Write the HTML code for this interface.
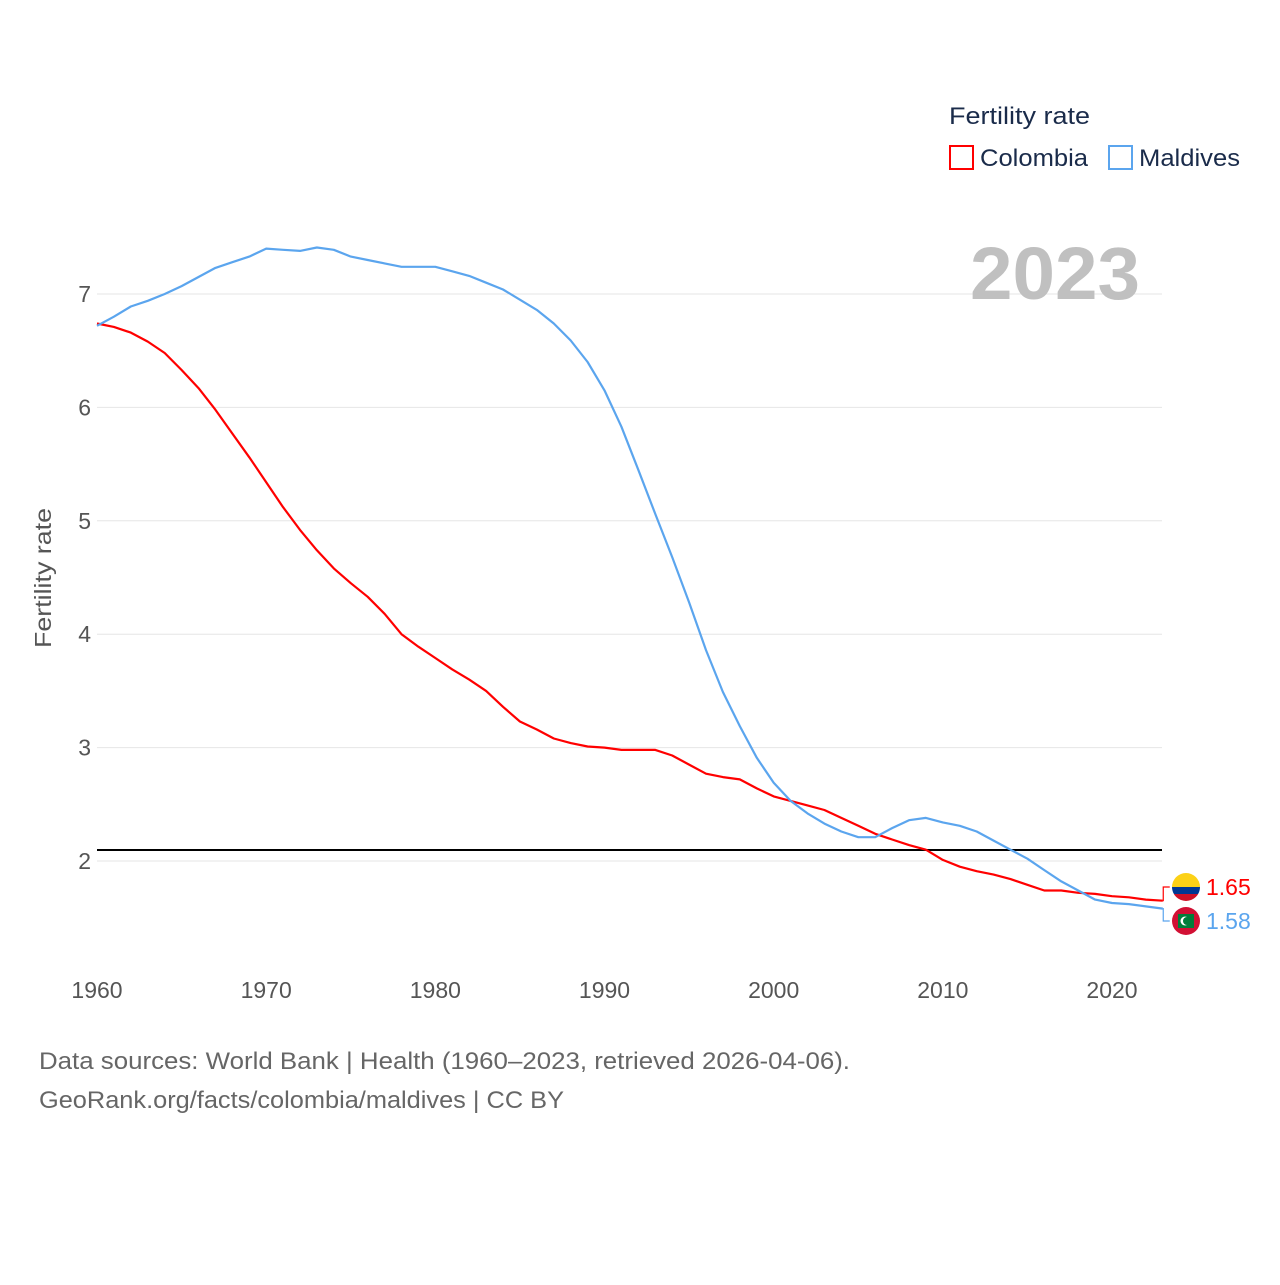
<!DOCTYPE html>
<html><head><meta charset="utf-8"><style>
body{margin:0;background:#fff;font-family:"Liberation Sans",sans-serif}
</style></head><body>
<svg width="1280" height="1280" viewBox="0 0 1280 1280">
<g id="grid"></g>
<g id="yt" font-size="23" fill="#555"></g>
<g id="xt" font-size="23" fill="#555"></g>
<text transform="translate(51,578) rotate(-90)" text-anchor="middle" font-size="23" fill="#555" textLength="140" lengthAdjust="spacingAndGlyphs">Fertility rate</text>
<text x="1140" y="299" text-anchor="end" font-size="74" font-weight="bold" fill="#c0c0c0" textLength="170" lengthAdjust="spacingAndGlyphs">2023</text>
<line x1="97" x2="1162" y1="850" y2="850" stroke="#000" stroke-width="2"/>
<g id="series"></g>
<g>
<text x="949" y="124" font-size="24" fill="#1a2b4a" textLength="141" lengthAdjust="spacingAndGlyphs">Fertility rate</text>
<rect x="950" y="146" width="23" height="23" fill="none" stroke="#f00" stroke-width="2"/>
<text x="980" y="166" font-size="24" fill="#1a2b4a" textLength="108" lengthAdjust="spacingAndGlyphs">Colombia</text>
<rect x="1109" y="146" width="23" height="23" fill="none" stroke="#5ba5ee" stroke-width="2"/>
<text x="1139" y="166" font-size="24" fill="#1a2b4a" textLength="101" lengthAdjust="spacingAndGlyphs">Maldives</text>
</g>
<g>
<clipPath id="c1"><circle cx="1186" cy="887" r="14"/></clipPath>
<g clip-path="url(#c1)"><rect x="1170" y="871" width="32" height="16" fill="#fcd116"/><rect x="1170" y="887" width="32" height="7" fill="#003893"/><rect x="1170" y="894" width="32" height="9" fill="#ce1126"/></g></g>
<g>
<circle cx="1186" cy="921" r="14" fill="#d21034"/><rect x="1178" y="914" width="16" height="14" fill="#007e3a"/>
<circle cx="1185" cy="921" r="4.5" fill="#fff"/><circle cx="1187" cy="921" r="4" fill="#007e3a"/></g>
<text x="39" y="1069" font-size="24" fill="#666" textLength="811" lengthAdjust="spacingAndGlyphs">Data sources: World Bank | Health (1960–2023, retrieved 2026-04-06).</text>
<text x="39" y="1108" font-size="24" fill="#666" textLength="525" lengthAdjust="spacingAndGlyphs">GeoRank.org/facts/colombia/maldives | CC BY</text>
</svg>
<script>
const years=[];for(let y=1960;y<=2023;y++)years.push(y);
const colombia=[6.74,6.71,6.66,6.58,6.48,6.33,6.17,5.98,5.77,5.56,5.34,5.12,4.92,4.74,4.58,4.45,4.33,4.18,4.00,3.89,3.79,3.69,3.60,3.50,3.36,3.23,3.16,3.08,3.04,3.01,3.00,2.98,2.98,2.98,2.93,2.85,2.77,2.74,2.72,2.64,2.57,2.53,2.49,2.45,2.38,2.31,2.24,2.19,2.14,2.10,2.01,1.95,1.91,1.88,1.84,1.79,1.74,1.74,1.72,1.71,1.69,1.68,1.66,1.65];
const maldives=[6.72,6.80,6.89,6.94,7.00,7.07,7.15,7.23,7.28,7.33,7.40,7.39,7.38,7.41,7.39,7.33,7.30,7.27,7.24,7.24,7.24,7.20,7.16,7.10,7.04,6.95,6.86,6.74,6.59,6.40,6.15,5.83,5.45,5.06,4.68,4.28,3.86,3.49,3.19,2.91,2.69,2.53,2.42,2.33,2.26,2.21,2.21,2.29,2.36,2.38,2.34,2.31,2.26,2.18,2.10,2.02,1.92,1.82,1.74,1.66,1.63,1.62,1.60,1.58];
const yTicks=[2,3,4,5,6,7];
const xTicks=[1960,1970,1980,1990,2000,2010,2020];
const X=y=>97+(y-1960)*1015/60;
const Y=v=>861-(v-2)*113.4;
const NS="http://www.w3.org/2000/svg";
function mk(t,p,a){const e=document.createElementNS(NS,t);for(const k in a)e.setAttribute(k,a[k]);p.appendChild(e);return e;}
const grid=document.getElementById('grid'),yt=document.getElementById('yt'),xt=document.getElementById('xt'),ser=document.getElementById('series');
yTicks.forEach(v=>{
const l=mk('line',grid,{x1:97,x2:1162,y1:Y(v),y2:Y(v),stroke:'#e6e6e6','stroke-width':1});


const t=mk('text',yt,{x:91,y:Y(v)+8,'text-anchor':'end'});t.textContent=v;


});
xTicks.forEach(v=>{
const t=mk('text',xt,{x:X(v),y:998,'text-anchor':'middle'});t.textContent=v;


});
function line(data,color,name,ly){
const d=data.map((v,i)=>(i?'L':'M')+X(years[i]).toFixed(1)+','+Y(v).toFixed(1)).join('');
const p=mk('path',ser,{d:d,fill:'none',stroke:color,'stroke-width':2.2,'stroke-linejoin':'round'});


const last=data[data.length-1],x0=X(2023),y0=Y(last);
const c=mk('path',ser,{d:`M${x0},${y0}H${x0+0.5}V${ly}H${x0+7}`,fill:'none',stroke:color,'stroke-width':1.2});


const t=mk('text',ser,{x:1206,y:ly+8,'font-size':23,fill:color});t.textContent=last.toFixed(2);


}
line(colombia,'#f00','colombia',887);
line(maldives,'#5ba5ee','maldives',921);
</script>
</body></html>
